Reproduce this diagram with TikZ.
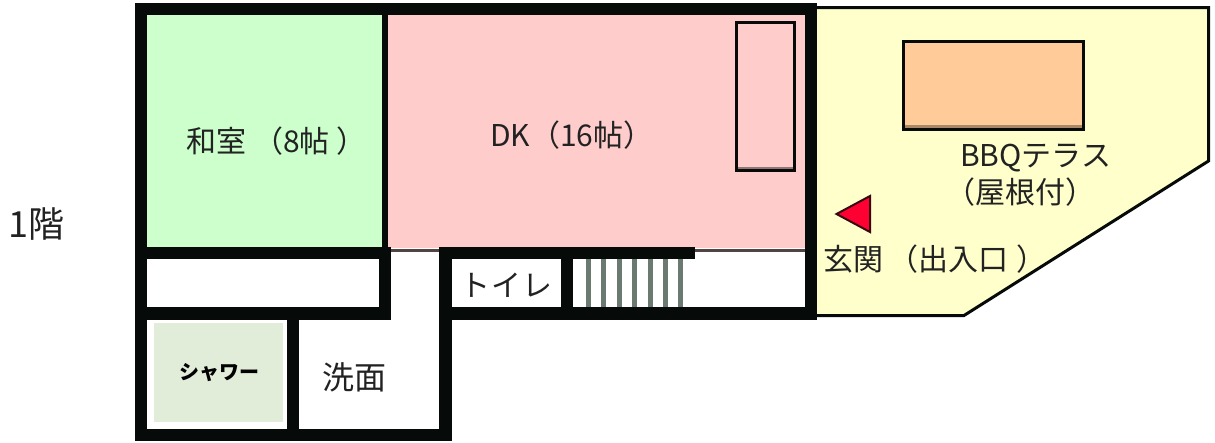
\documentclass[tikz,border=0pt]{standalone}
\usepackage{fontspec}
\setmainfont{Noto Sans CJK JP}
\definecolor{wallblack}{HTML}{060A08}
\definecolor{washitsu}{HTML}{CCFFCC}
\definecolor{dining}{HTML}{FFCCCC}
\definecolor{terrace}{HTML}{FFFFCC}
\definecolor{grill}{HTML}{FFCC99}
\definecolor{shower}{HTML}{E2EDD9}
\definecolor{entrance}{HTML}{FF0033}
\definecolor{tread}{HTML}{6A7A70}
\definecolor{roomtext}{HTML}{222222}

\begin{document}
\begin{tikzpicture}[x=1pt,y=-1pt,font=\fontsize{30}{36}\selectfont,text=roomtext]
  \tikzstyle{wall}=[fill=wallblack,draw=none]
  \tikzstyle{outline}=[draw=wallblack,line width=3pt]
  \tikzstyle{room}=[inner sep=0pt,anchor=west]
  \useasboundingbox (0,0) rectangle (1215,442);

  % floors
  \fill[washitsu] (147,15) rectangle (382,247);
  \fill[dining] (388,15) rectangle (805,248);
  \fill[wallblack!70!dining] (391,249) rectangle (439,252);
  \fill[wallblack!70!dining] (695,249) rectangle (805,252);
  \fill[shower] (154,323) rectangle (283,422);
  \draw[outline,fill=terrace,miter limit=2] (817,7.5) -- (1208.5,7.5) -- (1208.5,161) -- (964,315.5) -- (817,315.5);

  % furniture
  \draw[outline,fill=dining] (736.5,22.5) rectangle (794.5,170.5);
  \fill[wallblack!45!dining] (738,167) rectangle (793,169);
  \draw[outline,fill=grill] (903.5,41.5) rectangle (1083.5,129.5);
  \fill[wallblack!35!grill] (905,125) rectangle (1082,128);
  \draw[fill=entrance,draw=wallblack!80!entrance,line width=2pt] (836.5,214) -- (870,196) -- (870,232) -- cycle;

  % stairs
  \draw[tread,line width=5pt] (588.5,259) -- (588.5,307) (603.5,259) -- (603.5,307)
    (619,259) -- (619,307) (634,259) -- (634,307) (650,259) -- (650,307)
    (665,259) -- (665,307) (680,259) -- (680,307);

  % walls
  \fill[wall] (135,3) rectangle (817,15);
  \fill[wall] (135,3) rectangle (147,441);
  \fill[wall] (382,15) rectangle (388,247);
  \fill[wall] (805,3) rectangle (817,320);
  \fill[wall] (135,247) rectangle (391,259);
  \fill[wall] (379,247) rectangle (391,320);
  \fill[wall] (135,307) rectangle (391,320);
  \fill[wall] (287,307) rectangle (299,441);
  \fill[wall] (135,429) rectangle (452,441);
  \fill[wall] (439,247) rectangle (452,441);
  \fill[wall] (439,247) rectangle (695,259);
  \fill[wall] (561,247) rectangle (573,320);
  \fill[wall] (439,307) rectangle (817,320);

  % labels
  \node[room,font=\fontsize{36}{40}\selectfont] (floor1) at (8,224) {1階};
  \node[room] (washitsulabel) at (186,141) {和室\hspace{7pt}（8帖\hspace{7pt}）};
  \node[room] (dklabel) at (490,135) {DK（16帖）};
  \node[room] (bbqlabel) at (960,158) {BBQテラス};
  \node[room] (rooflabel) at (945,192) {（屋根付）};
  \node[room] (doorlabel) at (823,259) {玄関\hspace{5pt}（出入口\hspace{8pt}）};
  \node[room] (toiletlabel) at (460,285) {ト\hspace{1pt}イ\hspace{1pt}レ};
  \node[room,font=\fontsize{32}{36}\selectfont] (washlabel) at (322,377) {洗面};
  \node[room,font=\fontsize{20}{24}\selectfont\bfseries,text=black] (showerlabel) at (179,373) {シャワー};
\end{tikzpicture}
\end{document}
